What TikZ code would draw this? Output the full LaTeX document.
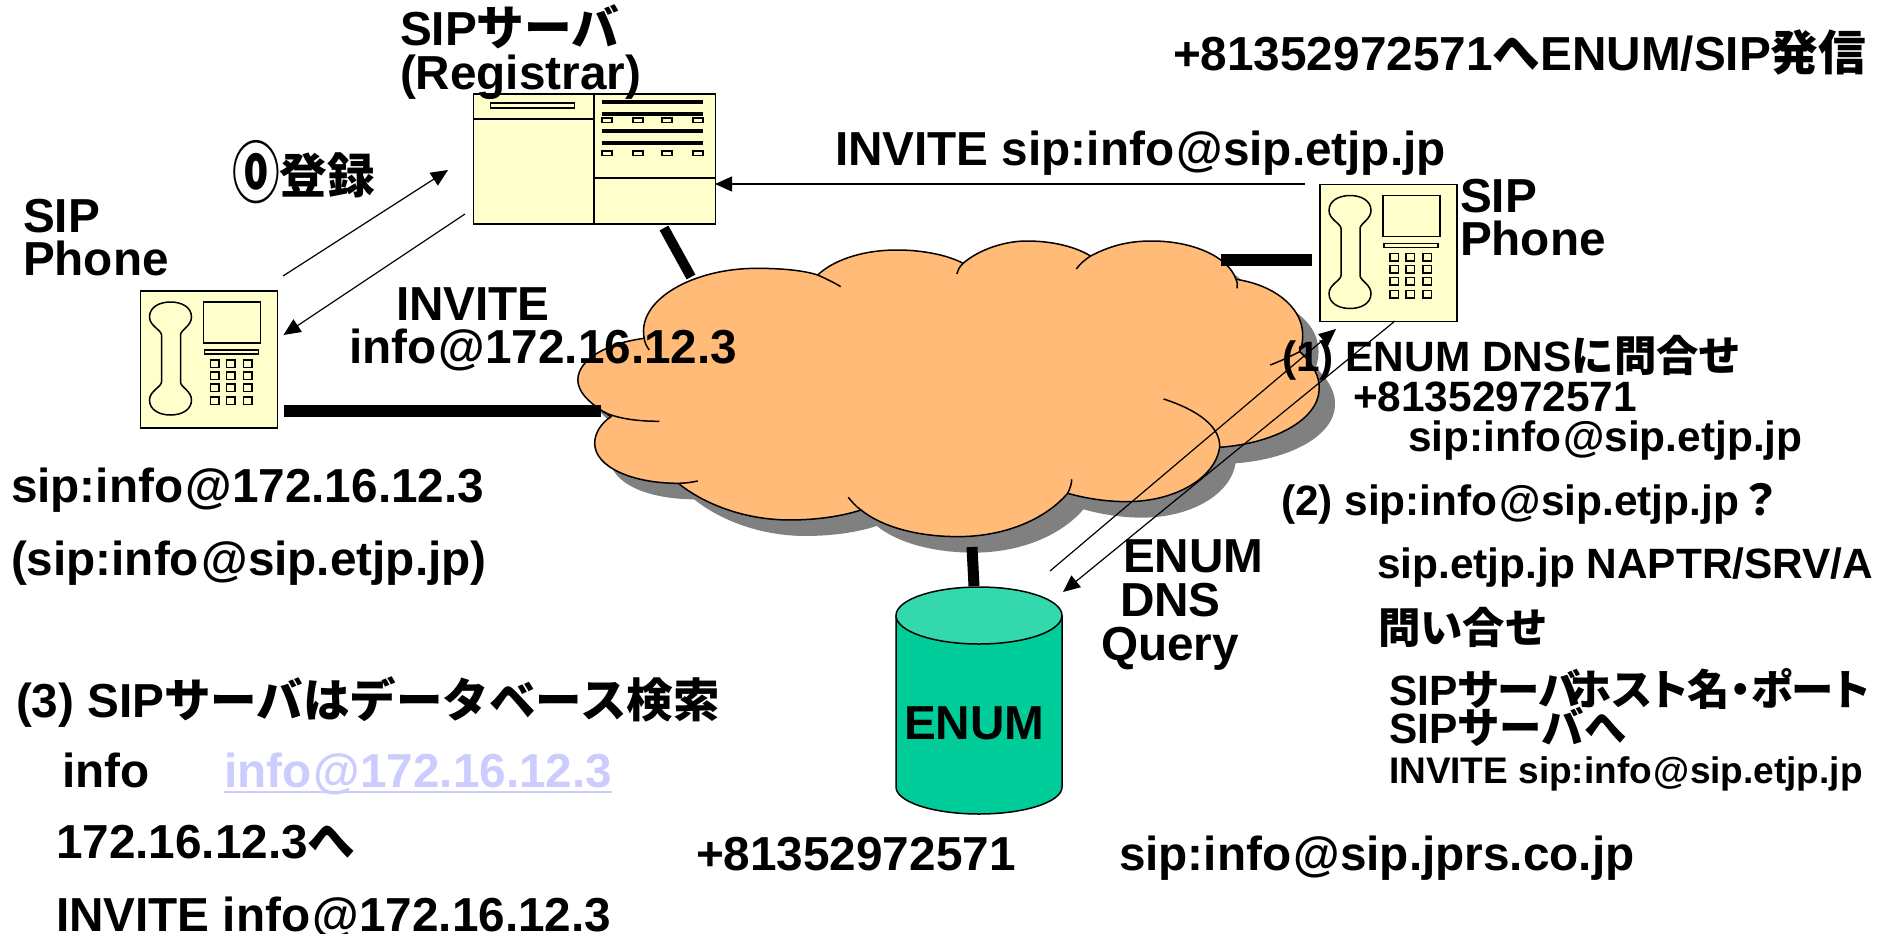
\documentclass[tikz,border=0pt]{standalone}
\usepackage{fontspec}
\setmainfont{Liberation Sans}
\newfontfamily\cjk{Noto Sans CJK JP}
\newfontfamily\cjkp{Noto Sans CJK JP}[RawFeature={+palt}]
\usetikzlibrary{arrows.meta}
\newcommand\J[1]{{\cjk #1}}
\newcommand\JP[1]{{\cjkp #1}}
\newcommand\AT{\kern.05em@}
\definecolor{devfill}{HTML}{FFFFCC}
\definecolor{cloudfill}{HTML}{FFBB77}
\definecolor{cloudshade}{HTML}{808080}
\definecolor{dbbody}{HTML}{00CC99}
\definecolor{dbtop}{HTML}{33D9AD}
\definecolor{linktext}{HTML}{CCCCFF}
\newcommand\cloudoutline{(165,355) .. controls (150,240) and (260,145) .. (385,145) .. controls (430,145) and (475,150) .. (505,165)
 .. controls (540,115) and (600,90) .. (660,90) .. controls (710,90) and (760,105) .. (790,130)
 .. controls (820,90) and (870,63) .. (915,63) .. controls (965,63) and (1010,80) .. (1040,108)
 .. controls (1075,80) and (1110,63) .. (1160,63) .. controls (1240,63) and (1310,110) .. (1325,178)
 .. controls (1400,195) and (1450,260) .. (1455,330) .. controls (1457,355) and (1455,375) .. (1450,395)
 .. controls (1475,430) and (1490,470) .. (1488,510) .. controls (1485,600) and (1400,670) .. (1293,682)
 .. controls (1285,770) and (1210,845) .. (1110,845) .. controls (1070,845) and (1030,835) .. (995,820)
 .. controls (950,900) and (870,950) .. (780,950) .. controls (700,950) and (630,920) .. (590,870)
 .. controls (550,890) and (500,900) .. (450,900) .. controls (360,900) and (280,850) .. (232,790)
 .. controls (140,790) and (68,740) .. (68,670) .. controls (68,640) and (80,610) .. (100,590)
 .. controls (95,585) and (90,580) .. (85,575)
 .. controls (55,545) and (35,515) .. (35,480) .. controls (35,420) and (90,370) .. (165,355) -- cycle}
\tikzset{
 lbl/.style={anchor=base west,inner sep=0pt,outer sep=0pt,font=\bfseries\fontsize{47.7bp}{50bp}\selectfont},
 lblr/.style={lbl,font=\bfseries\fontsize{42.4bp}{46bp}\selectfont},
 lbls/.style={lbl,font=\bfseries\fontsize{37bp}{40bp}\selectfont},
 devbox/.style={draw=black,fill=devfill,line width=1.5bp,rectangle,inner sep=0pt},
 wire/.style={line width=12bp,line cap=butt},
 msg/.style={line width=1.2bp,-{Triangle[length=17bp,width=15bp]}},
 phonedev/.pic={
  \node[devbox,anchor=north west,minimum width=137bp,minimum height=137bp] (-box) at (0,0) {};
  \draw[line width=1.5bp,fill=devfill] (22,45) .. controls (22,40) and (10,36) .. (10,27) .. controls (10,17) and (20,12) .. (31,12) .. controls (42,12) and (52,17) .. (52,27) .. controls (52,36) and (41,40) .. (41,45) -- (41,92) .. controls (41,97) and (52,101) .. (52,110) .. controls (52,120) and (42,125) .. (31,125) .. controls (20,125) and (10,120) .. (10,110) .. controls (10,101) and (22,97) .. (22,92) -- cycle;
  \draw[line width=1.5bp] (64,12) rectangle (121,53);
  \draw[line width=1.5bp] (65,60) rectangle (119,64);
  \foreach \ky in {70,82,94,107} \foreach \kx in {71,87,104} {
    \draw[line width=1.5bp] (\kx,\ky) rectangle ++(8.5,7.5);
  }
 }
}
\begin{document}
\begin{tikzpicture}[x=1bp,y=-1bp]
\path[use as bounding box,fill=white] (0,0) rectangle (1881,934);
% cloud
\begin{scope}[shift={(560,220)},xscale=0.5102,yscale=0.3333]
 \begin{scope}[shift={(31,48)}]
  \fill[cloudshade] \cloudoutline;
 \end{scope}
 \draw[line width=1.5bp,fill=cloudfill] \cloudoutline;
 \draw[line width=1.5bp]
  (505,165) .. controls (520,175) and (540,190) .. (550,200)
  (790,130) .. controls (783,140) and (780,150) .. (778,162)
  (1040,108) .. controls (1030,118) and (1020,130) .. (1012,147)
  (1325,178) .. controls (1328,185) and (1328,195) .. (1327,205)
  (1450,395) .. controls (1430,410) and (1410,425) .. (1392,435)
  (1293,682) .. controls (1295,620) and (1250,570) .. (1183,537)
  (995,820) .. controls (1000,805) and (1003,790) .. (1003,778)
  (590,870) .. controls (580,860) and (572,845) .. (565,832)
  (232,790) .. controls (245,790) and (258,787) .. (270,783)
  (85,575) .. controls (110,595) and (150,604) .. (195,604)
  (165,355) .. controls (166,368) and (170,380) .. (175,390);
\end{scope}
% server
\node[devbox,anchor=north west,minimum width=242bp,minimum height=130bp] (server) at (472.5,93) {};
\draw[line width=1.5bp] (594,93) -- (594,223) (472.5,119) -- (594,119) (594,178) -- (714.5,178);
\draw[line width=1.2bp] (490.5,103) rectangle (574.5,108);
\foreach \by in {102,114,131,143} \draw[line width=3.5bp] (601.5,\by) -- (703,\by);
\foreach \by in {118,151} \foreach \bx in {602,633,662,693} \draw[line width=1.2bp] (\bx,\by) rectangle ++(10,4.5);
% phones
\pic (phoneL) at (139.5,290) {phonedev};
\pic (phoneR) at (1319,183.5) {phonedev};
% database
\fill[dbbody,draw=black,line width=1.5bp] (896,616) -- (896,787) arc[start angle=180,end angle=360,x radius=83bp,y radius=27bp] -- (1062,616) -- cycle;
\draw[fill=dbtop,line width=1.5bp] (979,615.5) ellipse [x radius=83bp,y radius=28.5bp];
\node[lbl] (dbname) at (904,739) {ENUM};
% connector ends
\coordinate (wLa) at (284,411); \coordinate (wLb) at (601,411);
\coordinate (wSa) at (664,228); \coordinate (wSb) at (691,277);
\coordinate (wRa) at (1221,260); \coordinate (wRb) at (1312,260);
\coordinate (wEa) at (972,547); \coordinate (wEb) at (974,586);
\draw[wire] (wLa) -- (wLb);
\draw[wire,line width=10bp] (wSa) -- (wSb);
\draw[wire] (wRa) -- (wRb);
\draw[wire,line width=11bp] (wEa) -- (wEb);
\coordinate (m1a) at (283,276); \coordinate (m1b) at (448,170);
\coordinate (m2a) at (465,214); \coordinate (m2b) at (283.5,335);
\coordinate (m3a) at (1305,184); \coordinate (m3b) at (715,184);
\coordinate (m4a) at (1050,571); \coordinate (m4b) at (1336,329);
\coordinate (m5a) at (1395,321); \coordinate (m5b) at (1063,592);
\draw[msg] (m1a) -- (m1b);
\draw[msg] (m2a) -- (m2b);
\draw[msg] (m3a) -- (m3b);
\draw[msg] (m4a) -- (m4b);
\draw[msg] (m5a) -- (m5b);
% labels
\node[lbl] (t1) at (400,45) {SIP\J{サーバ}};
\node[lbl] (t2) at (400,89) {(Registrar)};
\node[lbl] (t3) at (1173,70) {+81352972571\J{へ}ENUM/SIP\J{発信}};
\node[lbl] (t4) at (835,165) {INVITE sip:info\AT sip.etjp.jp};
\node[lbl] (t5) at (232,193) {\raisebox{-.1em}{\scalebox{1}[1.4]{\J{⓪}}}\J{登録}};
\node[lbl] (t6) at (23,232) {SIP};
\node[lbl] (t7) at (23,275) {Phone};
\node[lbl] (t8) at (1460,212) {SIP};
\node[lbl] (t9) at (1460,255) {Phone};
\node[lbl] (t10) at (396,320) {INVITE};
\node[lbl] (t11) at (349,363) {info\AT 172.16.12.3};
\node[lbl] (t12) at (11,502) {sip:info\AT 172.16.12.3};
\node[lbl] (t13) at (11,575) {(sip:info\AT sip.etjp.jp)};
\node[lbl] (t14) at (16,717) {(3) SIP{\fontsize{46.5bp}{50bp}\selectfont\J{サーバはデータベース検索}}};
\node[lbl] (t15) at (62,787) {info};
\node[lbl,text=linktext] (t16) at (224,787) {info\AT 172.16.12.3};
\draw[linktext,line width=2.5bp] ([yshift=-5bp]t16.base west) -- ([yshift=-5bp]t16.base east);
\node[lbl] (t17) at (56,858) {172.16.12.3\J{へ}};
\node[lbl] (t18) at (56,931) {INVITE info\AT 172.16.12.3};
\node[lbl] (t19) at (696,870) {+81352972571};
\node[lbl] (t20) at (1119,870) {sip:info\AT sip.jprs.co.jp};
\node[lbl] (t21) at (1123,572) {ENUM};
\node[lbl] (t22) at (1120,616) {DNS};
\node[lbl] (t23) at (1101,660) {Query};
\node[lblr] (t24) at (1282,371) {(1) ENUM DNS\J{に問合せ}};
\node[lblr] (t25) at (1353,411) {+81352972571};
\node[lblr] (t26) at (1408,451) {sip:info\AT sip.etjp.jp};
\node[lblr] (t27) at (1281,515) {(2) sip:info\AT sip.etjp.jp\J{？}};
\node[lblr] (t28) at (1377,578) {sip.etjp.jp NAPTR/SRV/A};
\node[lblr] (t29) at (1378,643) {\J{問い合せ}};
\node[lblr] (t30) at (1389,705) {SIP\JP{サーバ\kern-.25emホスト名・ポート}};
\node[lblr] (t31) at (1389,743) {SIP\J{サーバへ}};
\node[lbls] (t32) at (1389,783) {INVITE sip:info\AT sip.etjp.jp};
\end{tikzpicture}
\end{document}
